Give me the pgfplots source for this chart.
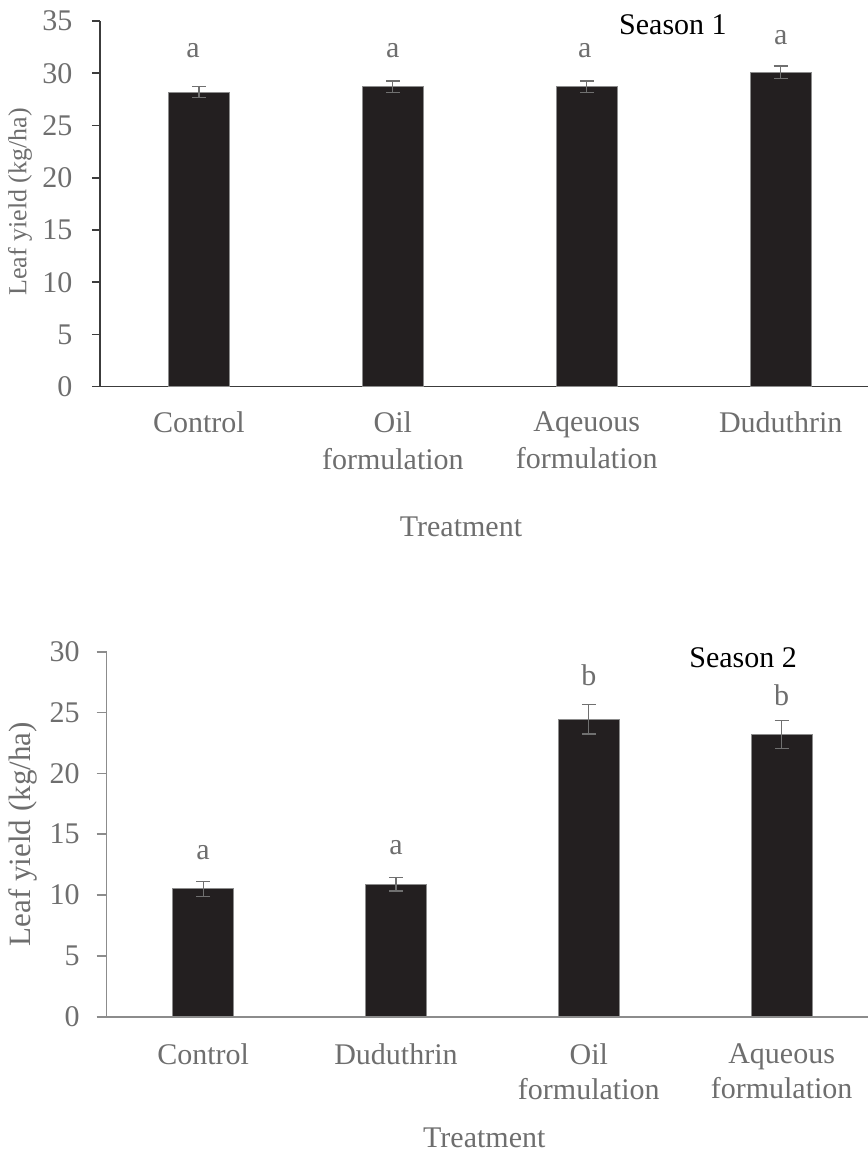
\documentclass[border=0pt]{standalone}
\usepackage{fontspec}
\setmainfont{Liberation Serif}
\usepackage{pgfplots}
\pgfplotsset{compat=1.18}
\definecolor{barc}{HTML}{231F20}
\definecolor{txtg}{HTML}{6E6E6E}
\definecolor{axg}{HTML}{8C8C8C}
\definecolor{axd}{HTML}{3C3C3C}
\definecolor{errg}{HTML}{707070}
\begin{document}
\begin{tikzpicture}
\useasboundingbox (0,0) rectangle (434pt,576.5pt);
\pgfplotsset{
  base/.style={
    scale only axis, clip=false,
    axis x line*=bottom, axis y line*=left,
    font=\fontsize{15}{18.5}\selectfont,
    tick label style={font=\fontsize{15}{18.5}\selectfont, text=txtg},
    label style={font=\fontsize{15}{18.5}\selectfont, text=txtg},
    /pgf/number format/assume math mode=true,
    ybar, bar width=30.5pt,
    xtick=data,
    x tick style={draw=none},
    tick align=outside,
    ymin=0,
    xmin=-0.51, xmax=3.45,
    xticklabel style={align=center, anchor=north, inner sep=0pt, yshift=-8.5pt},
    yticklabel style={anchor=east, inner sep=0pt},
    error bars/y dir=both, error bars/y explicit,
    error bars/error bar style={errg, line width=0.6pt},
    error bars/error mark options={rotate=90, errg, mark size=3.5pt, line width=0.6pt},
  }
}
% ---------- Season 1 ----------
\begin{axis}[base,
  at={(50pt,383.15pt)}, anchor=south west,
  width=384pt, height=182.85pt,
  ymax=35, ytick={0,5,...,35},
  axis line style={axd, line width=0.8pt},
  y tick style={axd, line width=0.8pt},
  major tick length=4pt,
  yticklabel style={xshift=-9.6pt},
  xticklabels={Control, {Oil\\formulation}, {Aqeuous\\formulation}, Duduthrin},
  xlabel={Treatment},
  xlabel style={at={(axis description cs:0.47,-0.383)}, anchor=center},
  ylabel={Leaf yield (kg/ha)},
  ylabel style={at={(axis description cs:-0.104,0.505)}, anchor=center, font=\fontsize{13}{15}\selectfont},
]
\addplot[fill=barc, draw=axg, line width=0.5pt] coordinates {
  (0,28.2) +- (0,0.5)
  (1,28.7) +- (0,0.55)
  (2,28.7) +- (0,0.55)
  (3,30.1) +- (0,0.6)
};
\node[text=txtg] at (axis cs:-0.03,32.2) {a};
\node[text=txtg] at (axis cs:1,32.2) {a};
\node[text=txtg] at (axis cs:1.99,32.2) {a};
\node[text=txtg] at (axis cs:3,33.4) {a};
\node[text=black] at (rel axis cs:0.746,0.989) {Season 1};
\end{axis}
% ---------- Season 2 ----------
\begin{axis}[base,
  at={(53.35pt,68.15pt)}, anchor=south west,
  width=380.65pt, height=182.5pt,
  xmin=-0.5, xmax=3.448,
  ymax=30, ytick={0,5,...,30},
  axis line style={axg, line width=0.8pt},
  y tick style={axg, line width=0.8pt},
  major tick length=5pt,
  yticklabel style={xshift=-8.3pt},
  xticklabel style={font=\fontsize{15}{17.5}\selectfont, yshift=0pt},
  xticklabels={Control, Duduthrin, {Oil\\formulation}, {Aqueous\\formulation}},
  xlabel={Treatment},
  xlabel style={at={(axis description cs:0.496,-0.333)}, anchor=center},
  ylabel={Leaf yield (kg/ha)},
  ylabel style={at={(axis description cs:-0.11,0.5)}, anchor=center, font=\fontsize{15.5}{18}\selectfont},
]
\addplot[fill=barc, draw=axg, line width=0.5pt] coordinates {
  (0,10.5) +- (0,0.6)
  (1,10.9) +- (0,0.57)
  (2,24.45) +- (0,1.22)
  (3,23.2) +- (0,1.16)
};
\node[text=txtg] at (axis cs:0,13.45) {a};
\node[text=txtg] at (axis cs:1,13.87) {a};
\node[text=txtg] at (axis cs:2,28.1) {b};
\node[text=txtg] at (axis cs:3,26.4) {b};
\node[text=black] at (rel axis cs:0.836,0.983) {Season 2};
\end{axis}
\end{tikzpicture}
\end{document}
